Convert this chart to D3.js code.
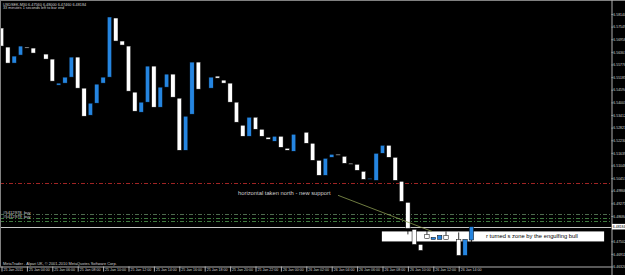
<!DOCTYPE html>
<html>
<head>
<meta charset="utf-8">
<script src="https://cdn.jsdelivr.net/npm/d3@7"></script>
<style>
  body { margin: 0; background: #000; }
  svg { display: block; font-family: "Liberation Sans", Arial, sans-serif; }
</style>
</head>
<body>
<div id="container"></div>
<script>
// USDSEK M30 bars, 25 Jan 02:00 -> 26 Jan 15:00 (one entry per bar)
const opens = [
  6.57483, 6.56592, 6.55842, 6.56217, 6.56592, 6.56545, 6.56264, 6.56264, 6.56029, 6.54810,
  6.54904, 6.55185, 6.56123, 6.54669, 6.53403, 6.53966, 6.54904, 6.55185, 6.57952, 6.56874,
  6.56639, 6.54482, 6.53544, 6.54013, 6.55701, 6.53778, 6.54716, 6.55326, 6.54200, 6.51762,
  6.53450, 6.55889, 6.54669, 6.54669, 6.55232, 6.55045, 6.54904, 6.54013, 6.52934, 6.52418,
  6.53309, 6.52746, 6.52371, 6.52184, 6.52418, 6.51855, 6.51715, 6.52560, 6.52606, 6.52090,
  6.51293, 6.50589, 6.51433, 6.51574, 6.51480, 6.51152, 6.51105, 6.50777, 6.50401, 6.50355,
  6.51621, 6.51996, 6.51433, 6.50308, 6.49323, 6.48056, 6.47353, 6.47822, 6.47587, 6.47587,
  6.47775, 6.47587, 6.47587, 6.46837, 6.47560
];
const closes = [
  6.56639, 6.55842, 6.56170, 6.56639, 6.56545, 6.56311, 6.56264, 6.56029, 6.54998, 6.54904,
  6.55185, 6.56123, 6.54669, 6.53356, 6.53966, 6.54857, 6.55185, 6.58000, 6.56874, 6.56686,
  6.54529, 6.53591, 6.54013, 6.55701, 6.53778, 6.54716, 6.55326, 6.54247, 6.51762, 6.53356,
  6.55889, 6.54622, 6.54669, 6.55185, 6.55138, 6.54904, 6.54013, 6.53075, 6.52418, 6.53309,
  6.52746, 6.52418, 6.52278, 6.52418, 6.51902, 6.51762, 6.52512, 6.52560, 6.52090, 6.51293,
  6.50589, 6.51386, 6.51574, 6.51527, 6.51152, 6.51105, 6.50824, 6.50401, 6.50448, 6.51621,
  6.51996, 6.51433, 6.50355, 6.49370, 6.48103, 6.47353, 6.47072, 6.47634, 6.47681, 6.47775,
  6.47587, 6.47587, 6.46837, 6.47587, 6.48184
];

// wicks are black, only visible where they cross the white label box
const wickBars  = [64, 67, 70, 72, 74];
const wickHighs = [6.49323, 6.48009, 6.47962, 6.47915, 6.48200];
const wickLows  = [6.47822, 6.47634, 6.47587, 6.46837, 6.47460];

const priceTicks = [
  6.58140, 6.57549, 6.56958, 6.56367, 6.55776, 6.55185, 6.54594, 6.54003, 6.53412, 6.52821,
  6.52230, 6.51639, 6.51048, 6.50457, 6.49866, 6.49275, 6.48684, 6.47502, 6.46911, 6.46320
];
const timeBars = [0, 4, 8, 12, 16, 20, 24, 28, 32, 36, 40, 44, 48, 52, 56, 60, 64, 68, 72];
const timeLabels = [
  "25 Jan 2011", "25 Jan 04:00", "25 Jan 06:00", "25 Jan 08:00", "25 Jan 10:00",
  "25 Jan 12:00", "25 Jan 14:00", "25 Jan 16:00", "25 Jan 18:00", "25 Jan 20:00",
  "25 Jan 22:00", "26 Jan 00:00", "26 Jan 02:00", "26 Jan 04:00", "26 Jan 06:00",
  "26 Jan 08:00", "26 Jan 10:00", "26 Jan 12:00", "26 Jan 14:00"
];

const bidPrice = 6.48184;
const levelPrices = [6.50213, 6.48760, 6.48572, 6.48455];
const levelColors = ["#a02424", "#4d6a4d", "#3f7a3f", "#3f7a3f"];
const orderLabels = ["#5412978_buy", "#5412979_buy"];

// annotations, in bar / price units
const noteText = "horizontal taken north - new support";
const notePos = [37.25, 6.49680];
const trendLine = [[53.0, 6.49651], [67.8, 6.47962]];
const boxBars = [59.9, 94.9];
const boxPrices = [6.47962, 6.47493];
const boxText = "r turned s zone by the engulfing bull";
const boxTextBar = 76.3;

const width = 625, height = 275;
const plotRight = 611.5, plotBottom = 266.5;
const bullColor = "#2585e0", bearColor = "#ffffff";
const textColor = "#d0d0d0";

let x = d3.scaleLinear().domain([0, 96]).range([1.5, 611.1]);
let y = d3.scaleLinear().domain([6.46320, 6.58140]).range([266.5, 14]);

let svg = d3.select("#container").append("svg")
  .attr("width", width).attr("height", height);

svg.append("rect").attr("width", width).attr("height", height).attr("fill", "#000");

// horizontal levels (dash-dot)
svg.selectAll(".lvl").data(levelPrices).join("line")
  .attr("x1", 0).attr("x2", plotRight)
  .attr("y1", d => Math.round(y(d)) + 0.5).attr("y2", d => Math.round(y(d)) + 0.5)
  .attr("stroke", (d, i) => levelColors[i])
  .attr("stroke-width", 1)
  .attr("stroke-dasharray", "4,2,1,2");

// order labels
svg.selectAll(".ord").data(orderLabels).join("text")
  .attr("x", 3)
  .attr("y", (d, i) => y(levelPrices[i + 1]) - 0.8)
  .attr("fill", textColor)
  .attr("font-size", 4.2)
  .text(d => d);

// bid line
svg.append("line")
  .attr("x1", 0).attr("x2", plotRight)
  .attr("y1", Math.round(y(bidPrice)) + 0.5).attr("y2", Math.round(y(bidPrice)) + 0.5)
  .attr("stroke", "#c8c8c8").attr("stroke-width", 1);

// white label box
svg.append("rect")
  .attr("x", x(boxBars[0])).attr("width", x(boxBars[1]) - x(boxBars[0]))
  .attr("y", y(boxPrices[0])).attr("height", y(boxPrices[1]) - y(boxPrices[0]))
  .attr("fill", "#fff");

svg.append("text")
  .attr("x", x(boxTextBar))
  .attr("y", (y(boxPrices[0]) + y(boxPrices[1])) / 2 + 2)
  .attr("fill", "#000")
  .attr("font-size", 5.8)
  .text(boxText);

// wicks
svg.selectAll(".wick").data(wickBars).join("line")
  .attr("x1", d => x(d)).attr("x2", d => x(d))
  .attr("y1", (d, i) => y(wickHighs[i])).attr("y2", (d, i) => y(wickLows[i]))
  .attr("stroke", "#000").attr("stroke-width", 0.8);

// candle bodies
let bars = opens.map((o, i) => ({ i: i, o: o, c: closes[i] }));
svg.selectAll(".body").data(bars).join("rect")
  .attr("x", d => x(d.i) - 2.2)
  .attr("width", 4.4)
  .attr("y", d => y(Math.max(d.o, d.c)))
  .attr("height", d => Math.abs(y(d.o) - y(d.c)))
  .attr("fill", d => d.c > d.o ? bullColor : bearColor)
  .attr("stroke", "#000")
  .attr("stroke-width", 0.5);

// trend line + note
svg.append("line")
  .attr("x1", x(trendLine[0][0])).attr("y1", y(trendLine[0][1]))
  .attr("x2", x(trendLine[1][0])).attr("y2", y(trendLine[1][1]))
  .attr("stroke", "#8a9a50").attr("stroke-width", 0.8);

svg.append("text")
  .attr("x", x(notePos[0])).attr("y", y(notePos[1]))
  .attr("fill", textColor)
  .attr("font-size", 5.8)
  .text(noteText);

// frame
svg.append("line").attr("x1", 0).attr("x2", width).attr("y1", 0.5).attr("y2", 0.5)
  .attr("stroke", "#808080");
svg.append("line").attr("x1", 0.5).attr("x2", 0.5).attr("y1", 0).attr("y2", plotBottom)
  .attr("stroke", "#808080");

// price axis
let yAxis = svg.append("g")
  .attr("transform", `translate(${plotRight},0)`)
  .call(d3.axisRight(y).tickValues(priceTicks).tickSize(1.2).tickPadding(0.6)
    .tickFormat(d => d.toFixed(5)));
yAxis.select(".domain").attr("stroke", "#b0b0b0").attr("d", `M0.5,0V${height}`);
yAxis.selectAll(".tick line").attr("stroke", "#b0b0b0");
yAxis.selectAll("text").attr("fill", textColor).attr("font-size", 3.5)
  .attr("font-family", "Liberation Sans, Arial, sans-serif");

// current price tag
let bidY = y(bidPrice);
svg.append("rect").attr("x", plotRight + 0.5).attr("y", bidY - 2.8)
  .attr("width", width - plotRight).attr("height", 5.6).attr("fill", "#fff");
svg.append("text").attr("x", plotRight + 1.3).attr("y", bidY + 1.3)
  .attr("fill", "#000").attr("font-size", 3.5).text(bidPrice.toFixed(5));

// time axis
let xAxis = svg.append("g")
  .attr("transform", `translate(0,${plotBottom})`)
  .call(d3.axisBottom(x).tickValues(timeBars).tickSize(5)
    .tickFormat((d, i) => timeLabels[i]));
xAxis.select(".domain").attr("stroke", "#b0b0b0").attr("d", `M0,0.5H${plotRight}`);
xAxis.selectAll(".tick line").attr("stroke", "#b0b0b0");
xAxis.selectAll("text")
  .attr("text-anchor", "start")
  .attr("x", 1.5).attr("y", 2).attr("dy", "0.71em")
  .attr("fill", textColor).attr("font-size", 3.6)
  .attr("font-family", "Liberation Sans, Arial, sans-serif");

// header and footer text
svg.append("text").attr("x", 3).attr("y", 5.6).attr("fill", textColor)
  .attr("font-size", 3.8).text("USDSEK,M30  6.47560 6.48000 6.47460 6.48184");
svg.append("text").attr("x", 3).attr("y", 9.3).attr("fill", textColor)
  .attr("font-size", 3.8).text("33 minutes 1 seconds left to bar end");
svg.append("text").attr("x", 3).attr("y", 265.3).attr("fill", textColor)
  .attr("font-size", 3.9).text("MetaTrader - Alpari UK, \u00a9 2001-2010 MetaQuotes Software Corp.");
</script>
</body>
</html>
